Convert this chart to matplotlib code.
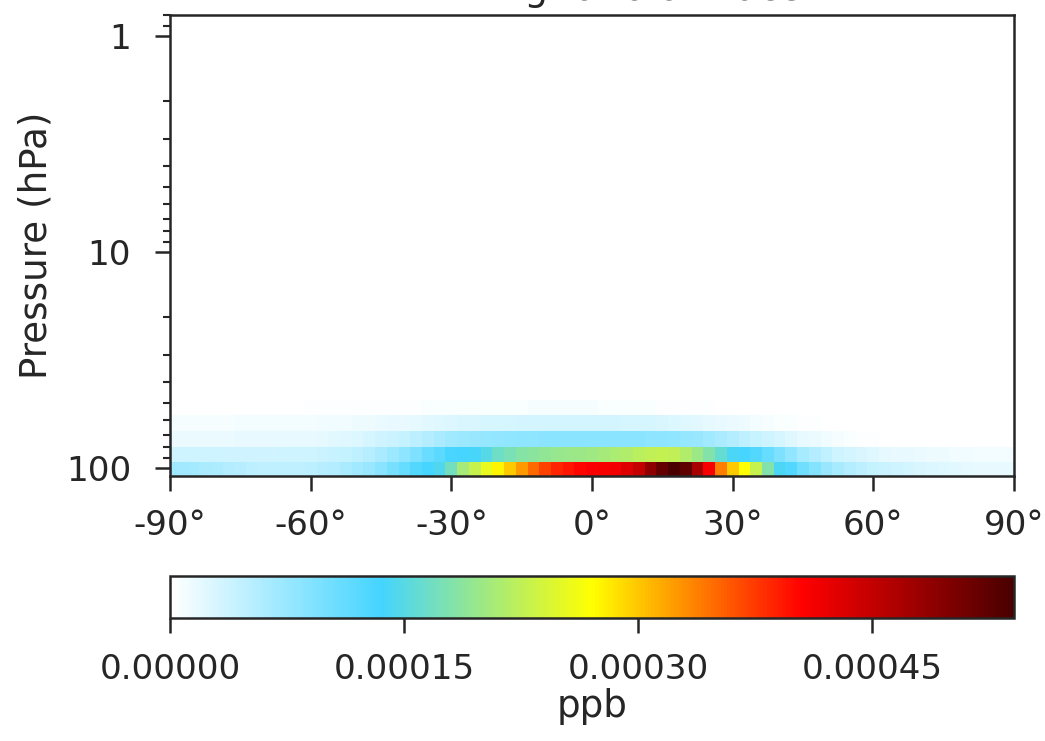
import matplotlib
matplotlib.use("Agg")
import matplotlib.pyplot as plt
from matplotlib.colors import LinearSegmentedColormap
from matplotlib.ticker import FixedLocator, LogLocator, NullFormatter
import numpy as np

# latitude cell centres, 2.5 degree grid
lats = np.arange(-90, 90.1, 2.5)

# pressure cell edges (hPa), bottom to top
p_edges = [108.5, 93.5, 79.7, 67.2, 56.8, 48.4]

# mixing ratio in units of 1e-5 ppb, one row per pressure layer
row_100 = [7.0, 6.8, 6.6, 6.3, 6.0, 5.6, 5.3, 5.0, 4.8, 4.7, 4.7, 4.8, 5.0, 5.3, 5.7, 6.2,
           6.8, 7.6, 8.6, 9.8, 11.0, 12.5, 13.5, 14.5,
           17.0, 20.5, 23.0, 25.5,
           27.5, 30.0, 32.5, 35.0, 37.0, 38.5, 39.5, 40.3, 40.8,
           41.0, 41.5, 43.0, 45.0, 49.0, 52.0, 54.0, 52.5, 47.0,
           41.0, 34.0, 30.0, 27.0, 23.0, 18.0,
           14.0, 12.5, 10.5, 9.0, 7.5, 6.5,
           5.6, 5.0, 4.4, 4.0, 3.6, 3.2, 2.9, 2.6, 2.4, 2.2, 2.0, 1.9, 1.8, 1.7, 1.7]
row_86 = [3.8, 3.8, 3.7, 3.6, 3.6, 3.5, 3.5, 3.5, 3.5, 3.5, 3.6, 3.6, 3.7, 3.9, 4.1, 4.4,
          4.8, 5.4, 6.2, 7.2, 8.3, 9.5, 10.8, 12.0,
          13.2, 13.5, 13.8, 15.0,
          16.5, 17.5, 18.2, 18.8, 19.2, 19.5, 19.8, 20.0, 20.2,
          20.5, 21.0, 21.5, 22.0, 22.5, 22.8, 22.5, 21.5, 20.0,
          18.0, 16.0, 14.0, 13.5, 12.5, 11.0,
          9.5, 8.0, 6.5, 5.5, 4.6, 3.8,
          3.2, 2.8, 2.4, 2.1, 1.9, 1.7, 1.5, 1.4, 1.3, 1.2, 1.1, 1.0, 1.0, 0.9, 0.9]
row_73 = [1.6, 1.6, 1.6, 1.6, 1.6, 1.6, 1.7, 1.7, 1.7, 1.7, 1.8, 1.8, 1.9, 2.0, 2.2, 2.4,
          2.7, 3.0, 3.4, 3.9, 4.4, 5.0, 5.6, 6.2,
          6.8, 7.2, 7.5, 7.8, 8.0, 8.2, 8.3, 8.4, 8.5, 8.5, 8.6, 8.6, 8.6,
          8.6, 8.6, 8.6, 8.5, 8.4, 8.3, 8.1, 7.8, 7.4,
          6.9, 6.2, 5.5, 4.8, 4.2, 3.6,
          3.0, 2.4, 1.9, 1.5, 1.1, 0.8,
          0.6, 0.4, 0.3, 0.2, 0.1, 0, 0, 0, 0, 0, 0, 0, 0, 0, 0]
row_62 = [0.8, 0.8, 0.8, 0.8, 0.8, 0.8, 0.9, 0.9, 0.9, 0.9, 1.0, 1.0, 1.0, 1.1, 1.1, 1.2,
          1.3, 1.4, 1.5, 1.7, 1.9, 2.1, 2.3, 2.5,
          2.7, 2.8, 2.9, 3.0, 3.1, 3.1, 3.2, 3.2, 3.2, 3.2, 3.2, 3.2, 3.2,
          3.2, 3.2, 3.1, 3.1, 3.0, 2.9, 2.7, 2.5, 2.3,
          2.0, 1.8, 1.5, 1.3, 1.0, 0.8,
          0.6, 0.5, 0.4, 0.3, 0.2, 0.1,
          0, 0, 0, 0, 0, 0, 0, 0, 0, 0, 0, 0, 0, 0, 0]
row_52 = [0.1, 0.1, 0.1, 0.1, 0.1, 0.1, 0.2, 0.2, 0.2, 0.2, 0.2, 0.2, 0.3, 0.3, 0.3, 0.3,
          0.3, 0.3, 0.4, 0.4, 0.4, 0.4, 0.5, 0.5,
          0.6, 0.6, 0.6, 0.6, 0.6, 0.6, 0.6, 0.7, 0.7, 0.7, 0.8, 0.8, 0.8,
          0.6, 0.5, 0.5, 0.5, 0.5, 0.4, 0.3, 0.3, 0.3,
          0.3, 0.2, 0.2, 0.2, 0.1, 0.1,
          0.05, 0, 0, 0, 0, 0,
          0, 0, 0, 0, 0, 0, 0, 0, 0, 0, 0, 0, 0, 0, 0]

lat_ticks = [-90, -60, -30, 0, 30, 60, 90]
lat_labels = ["-90°", "-60°", "-30°", "0°", "30°", "60°", "90°"]
cbar_ticks = [0.0, 0.00015, 0.00030, 0.00045]
vmax = 0.000541

ink = "#262626"
tick_fs = 24.6
label_fs = 26.8
plt.rcParams["font.family"] = "DejaVu Sans"
plt.rcParams["font.size"] = tick_fs
plt.rcParams["text.color"] = ink
plt.rcParams["axes.labelcolor"] = ink
plt.rcParams["xtick.color"] = ink
plt.rcParams["ytick.color"] = ink

cmap = LinearSegmentedColormap.from_list(
    "wbgyr",
    [(0.0, "#ffffff"), (0.25, "#44d4ff"), (0.5, "#ffff00"),
     (0.75, "#ff0000"), (1.0, "#4a0000")])

lat_edges = np.append(lats - 1.25, lats[-1] + 1.25)
z = np.array([row_100, row_86, row_73, row_62, row_52]) * 1e-5

fig = plt.figure(figsize=(10.45, 7.41), dpi=100)
ax = fig.add_axes([0.1627, 0.3576, 0.8076, 0.6222])
cax = fig.add_axes([0.1627, 0.166, 0.8076, 0.0567])

mesh = ax.pcolormesh(lat_edges, p_edges, z, cmap=cmap, vmin=0, vmax=vmax,
                     shading="flat")
ax.set_yscale("log")
ax.set_ylim(108.5, 0.8)
ax.set_xlim(-90, 90)
ax.set_xticks(lat_ticks)
ax.set_xticklabels(lat_labels)
ax.yaxis.set_major_locator(FixedLocator([1, 10, 100]))
ax.set_yticklabels(["1", "10", "100"])
ax.yaxis.set_minor_locator(LogLocator(base=10, subs=np.arange(2, 10)))
ax.yaxis.set_minor_formatter(NullFormatter())
ax.set_ylabel("Pressure (hPa)", fontsize=label_fs, labelpad=8)

ax.tick_params(axis="both", which="major", length=11, width=1.8)
ax.tick_params(axis="y", which="major", pad=17)
ax.tick_params(axis="x", which="major", pad=13)
ax.tick_params(axis="y", which="minor", length=5, width=1.5)
for s in ax.spines.values():
    s.set_linewidth(1.8)
    s.set_color(ink)

# title sits mostly above the figure edge, as in the original
fig.text(0.595, 0.9995, "Mixing ratio of tracer", ha="center", va="baseline",
         fontsize=label_fs)

cb = fig.colorbar(mesh, cax=cax, orientation="horizontal", ticks=cbar_ticks)
cb.ax.set_xticklabels(["%.5f" % t for t in cbar_ticks])
cb.ax.tick_params(length=11, width=1.8, pad=14)
cb.outline.set_linewidth(1.8)
cb.outline.set_edgecolor(ink)
cb.set_label("ppb", fontsize=label_fs, labelpad=2)

fig.savefig("out.png", dpi=100)
